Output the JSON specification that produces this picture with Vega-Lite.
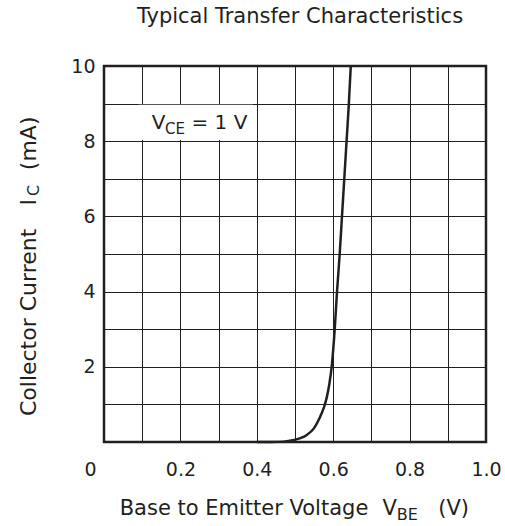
{
  "$schema": "https://vega.github.io/schema/vega-lite/v6.json",
  "width": 382,
  "height": 376,
  "autosize": "none",
  "padding": {"left": 104, "top": 66, "right": 19, "bottom": 84},
  "background": "white",
  "title": {
    "text": "Typical Transfer Characteristics",
    "font": "DejaVu Sans",
    "fontSize": 21,
    "fontWeight": "normal",
    "color": "#231f20",
    "anchor": "middle",
    "frame": "group",
    "offset": 30,
    "dx": 5
  },
  "config": {
    "view": {"stroke": "#231f20", "strokeWidth": 2.5},
    "axis": {
      "labelFont": "DejaVu Sans",
      "labelFontSize": 19,
      "labelColor": "#231f20",
      "gridColor": "#231f20",
      "gridWidth": 1,
      "gridOpacity": 1,
      "ticks": false,
      "domain": false,
      "title": null
    },
    "text": {"font": "DejaVu Sans", "color": "#231f20", "align": "left", "baseline": "alphabetic"}
  },
  "datasets": {
    "curve": [
      {"vbe": 0.40, "ic": 0.0},
      {"vbe": 0.44, "ic": 0.0},
      {"vbe": 0.47, "ic": 0.01},
      {"vbe": 0.49, "ic": 0.04},
      {"vbe": 0.51, "ic": 0.09},
      {"vbe": 0.53, "ic": 0.18},
      {"vbe": 0.55, "ic": 0.37},
      {"vbe": 0.565, "ic": 0.65},
      {"vbe": 0.575, "ic": 0.9},
      {"vbe": 0.583, "ic": 1.18},
      {"vbe": 0.59, "ic": 1.55},
      {"vbe": 0.596, "ic": 2.0},
      {"vbe": 0.604, "ic": 3.0},
      {"vbe": 0.610, "ic": 4.0},
      {"vbe": 0.617, "ic": 5.0},
      {"vbe": 0.623, "ic": 6.0},
      {"vbe": 0.629, "ic": 7.0},
      {"vbe": 0.635, "ic": 8.0},
      {"vbe": 0.641, "ic": 9.0},
      {"vbe": 0.646, "ic": 10.0}
    ],
    "box": [{"vbe": 0.09, "vbe2": 0.39, "ic": 8.03, "ic2": 8.97}],
    "note": [
      {"text": "V", "vbe": 0.125, "ic": 8.316},
      {"text": "= 1 V", "vbe": 0.229, "ic": 8.316}
    ],
    "noteSub": [{"text": "CE", "vbe": 0.1597, "ic": 8.19}],
    "xtitle": [
      {"text": "Base to Emitter Voltage", "vbe": 0.0411, "ic": -1.94},
      {"text": "V", "vbe": 0.729, "ic": -1.94},
      {"text": "(V)", "vbe": 0.875, "ic": -1.94}
    ],
    "xtitleSub": [{"text": "BE", "vbe": 0.7665, "ic": -2.074}],
    "ytitle": [
      {"text": "Collector Current", "vbe": -0.178, "ic": 0.69},
      {"text": "I", "vbe": -0.178, "ic": 6.29},
      {"text": "(mA)", "vbe": -0.178, "ic": 7.23}
    ],
    "ytitleSub": [{"text": "C", "vbe": -0.170, "ic": 6.54}]
  },
  "encoding": {
    "x": {
      "field": "vbe",
      "type": "quantitative",
      "scale": {"domain": [0, 1], "nice": false, "zero": false},
      "axis": {
        "values": [0, 0.1, 0.2, 0.3, 0.4, 0.5, 0.6, 0.7, 0.8, 0.9, 1.0],
        "labelExpr": "round(datum.value * 10) % 2 == 0 ? (datum.value == 0 ? '0' : format(datum.value, '.1f')) : ''",
        "labelPadding": 18,
        "labelOffset": {"condition": {"test": "datum.value == 0", "value": -14}, "value": 0},
        "labelFlush": false,
        "labelOverlap": false
      }
    },
    "y": {
      "field": "ic",
      "type": "quantitative",
      "scale": {"domain": [0, 10], "nice": false, "zero": false},
      "axis": {
        "values": [0, 1, 2, 3, 4, 5, 6, 7, 8, 9, 10],
        "labelExpr": "(datum.value % 2 == 0 && datum.value > 0) ? format(datum.value, 'd') : ''",
        "labelPadding": 9,
        "labelFlush": false,
        "labelOverlap": false
      }
    }
  },
  "layer": [
    {
      "data": {"name": "box"},
      "mark": {"type": "rect", "fill": "white", "stroke": null},
      "encoding": {"x2": {"field": "vbe2"}, "y2": {"field": "ic2"}}
    },
    {
      "data": {"name": "curve"},
      "mark": {"type": "line", "color": "#231f20", "strokeWidth": 2.5, "interpolate": "monotone"}
    },
    {
      "data": {"name": "note"},
      "mark": {"type": "text", "fontSize": 20},
      "encoding": {"text": {"field": "text"}}
    },
    {
      "data": {"name": "noteSub"},
      "mark": {"type": "text", "fontSize": 15},
      "encoding": {"text": {"field": "text"}}
    },
    {
      "data": {"name": "xtitle"},
      "mark": {"type": "text", "fontSize": 21},
      "encoding": {"text": {"field": "text"}}
    },
    {
      "data": {"name": "xtitleSub"},
      "mark": {"type": "text", "fontSize": 16},
      "encoding": {"text": {"field": "text"}}
    },
    {
      "data": {"name": "ytitle"},
      "mark": {"type": "text", "fontSize": 22, "angle": 270},
      "encoding": {"text": {"field": "text"}}
    },
    {
      "data": {"name": "ytitleSub"},
      "mark": {"type": "text", "fontSize": 16, "angle": 270},
      "encoding": {"text": {"field": "text"}}
    }
  ]
}
